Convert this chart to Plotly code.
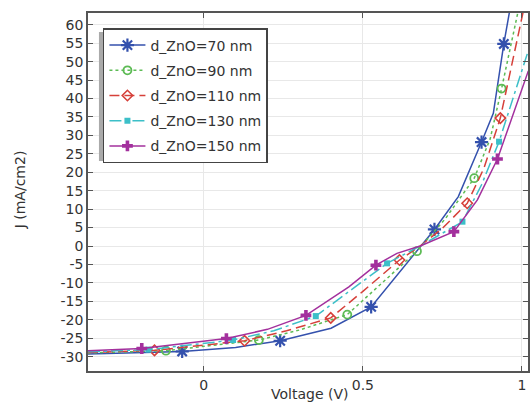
import plotly.graph_objects as go

# ---- data ----
names = ["d_ZnO=70 nm", "d_ZnO=90 nm", "d_ZnO=110 nm", "d_ZnO=130 nm", "d_ZnO=150 nm"]

v70 = [-0.364, -0.068, 0.10, 0.24, 0.40, 0.526, 0.725, 0.80, 0.873, 0.91, 0.943, 0.97]
j70 = [-29.3, -28.6, -27.5, -25.7, -22.3, -16.5, 4.5, 13.4, 28.2, 36.0, 54.8, 68.0]
v70_mk = [-0.068, 0.24, 0.526, 0.725, 0.873, 0.943]
j70_mk = [-28.6, -25.7, -16.5, 4.5, 28.2, 54.8]

v90 = [-0.364, -0.119, 0.173, 0.30, 0.451, 0.55, 0.67, 0.76, 0.85, 0.90, 0.936, 0.99]
j90 = [-29.0, -28.4, -25.5, -22.8, -18.6, -10.8, -1.4, 7.5, 18.4, 29.0, 42.7, 64.5]
v90_mk = [-0.119, 0.173, 0.451, 0.67, 0.85, 0.936]
j90_mk = [-28.4, -25.5, -18.6, -1.4, 18.4, 42.7]

v110 = [-0.364, -0.155, 0.128, 0.26, 0.399, 0.50, 0.615, 0.68, 0.75, 0.828, 0.88, 0.932, 1.005]
j110 = [-28.9, -28.3, -25.7, -23.0, -19.5, -12.3, -3.8, 0.0, 4.8, 11.6, 21.0, 34.7, 64.0]
v110_mk = [-0.155, 0.128, 0.399, 0.615, 0.828, 0.932]
j110_mk = [-28.3, -25.7, -19.5, -3.8, 11.6, 34.7]

v130 = [-0.364, -0.174, 0.092, 0.22, 0.352, 0.46, 0.576, 0.68, 0.813, 0.873, 0.928, 1.02]
j130 = [-28.7, -28.1, -25.5, -23.0, -19.0, -12.0, -4.7, 0.0, 6.6, 16.6, 28.3, 53.0]
v130_mk = [-0.174, 0.092, 0.352, 0.576, 0.813, 0.928]
j130_mk = [-28.1, -25.5, -19.0, -4.7, 6.6, 28.3]

v150 = [-0.364, -0.195, 0.071, 0.20, 0.321, 0.456, 0.541, 0.607, 0.68, 0.786, 0.86, 0.923, 1.02]
j150 = [-28.4, -27.8, -25.1, -22.6, -18.8, -11.1, -5.2, -2.0, 0.0, 3.9, 12.5, 23.6, 47.5]
v150_mk = [-0.195, 0.071, 0.321, 0.541, 0.786, 0.923]
j150_mk = [-27.8, -25.1, -18.8, -5.2, 3.9, 23.6]

x_tick_vals = [0, 0.5, 1]
x_tick_text = ["0", "0.5", "1"]
y_tick_vals = [-30, -25, -20, -15, -10, -5, 0, 5, 10, 15, 20, 25, 30, 35, 40, 45, 50, 55, 60]
y_tick_text = ["-30", "-25", "-20", "-15", "-10", "-5", "0", "5", "10", "15", "20",
               "25", "30", "35", "40", "45", "50", "55", "60"]

# ---- styles ----
series = [
    dict(v=v70, j=j70, vm=v70_mk, jm=j70_mk, color="#3451ad", dash="solid",
         symbol="asterisk-open", size=11, mlw=2.2),
    dict(v=v90, j=j90, vm=v90_mk, jm=j90_mk, color="#5dbb55", dash="dot",
         symbol="circle-open", size=8, mlw=1.8),
    dict(v=v110, j=j110, vm=v110_mk, jm=j110_mk, color="#d6403a", dash="10px,5px",
         symbol="diamond-open", size=8, mlw=1.6),
    dict(v=v130, j=j130, vm=v130_mk, jm=j130_mk, color="#3cbfc8", dash="12px,4px,3px,4px",
         symbol="square", size=6, mlw=0),
    dict(v=v150, j=j150, vm=v150_mk, jm=j150_mk, color="#a3309d", dash="solid",
         symbol="cross", size=9, mlw=0),
]

fig = go.Figure()
for i, (nm, s) in enumerate(zip(names, series)):
    grp = "g%d" % i
    fig.add_trace(go.Scatter(
        x=s["v"], y=s["j"], mode="lines", legendgroup=grp, showlegend=False,
        line=dict(color=s["color"], width=1.5, dash=s["dash"]), hoverinfo="skip"))
    fig.add_trace(go.Scatter(
        x=s["vm"], y=s["jm"], mode="markers", legendgroup=grp, showlegend=False,
        marker=dict(symbol=s["symbol"], size=s["size"], color=s["color"],
                    line=dict(color=s["color"], width=s["mlw"]))))
    fig.add_trace(go.Scatter(
        x=[None], y=[None], mode="lines+markers", name=nm, legendgroup=grp,
        line=dict(color=s["color"], width=1.5, dash=s["dash"]),
        marker=dict(symbol=s["symbol"], size=s["size"], color=s["color"],
                    line=dict(color=s["color"], width=s["mlw"]))))

axis_common = dict(
    showline=True, linecolor="#555555", linewidth=1.5, mirror="ticks",
    ticks="inside", ticklen=5, tickcolor="#555555", tickwidth=1,
    showgrid=True, gridcolor="#e8e8e8", gridwidth=1, zeroline=False,
    tickfont=dict(family="DejaVu Sans", size=14, color="#333333"),
)

fig.update_xaxes(range=[-0.364, 1.019], tickmode="array",
                 tickvals=x_tick_vals, ticktext=x_tick_text, **axis_common)
fig.update_yaxes(range=[-33.9, 63.2], tickmode="array",
                 tickvals=y_tick_vals, ticktext=y_tick_text, **axis_common)

# legend shadow (offset down-left behind the legend box)
fig.add_shape(type="rect", xref="paper", yref="paper",
              x0=(99 - 88) / 442, x1=(262 - 88) / 442,
              y0=(371 - 161) / 358, y1=(371 - 32) / 358,
              fillcolor="#aaaaaa", line=dict(width=0), layer="above")

fig.add_annotation(text="J (mA/cm2)", xref="paper", yref="paper",
                   x=(20 - 88) / 442, y=(371 - 190) / 358, textangle=-90,
                   showarrow=False, xanchor="center", yanchor="middle",
                   font=dict(family="DejaVu Sans", size=14, color="#333333"))
fig.add_annotation(text="Voltage (V)", xref="paper", yref="paper",
                   x=(311 - 88) / 442, y=(371 - 394) / 358,
                   showarrow=False, xanchor="center", yanchor="middle",
                   font=dict(family="DejaVu Sans", size=14, color="#333333"))

fig.update_layout(
    width=530, height=405,
    margin=dict(l=88, r=0, t=13, b=34),
    paper_bgcolor="white", plot_bgcolor="white",
    font=dict(family="DejaVu Sans", size=14, color="#333333"),
    legend=dict(x=(103 - 88) / 442, y=(371 - 28) / 358, xanchor="left", yanchor="top",
                bgcolor="white", bordercolor="#444444", borderwidth=1.5,
                itemwidth=36,
                tracegroupgap=4, font=dict(family="DejaVu Sans", size=14, color="#333333")),
    showlegend=True,
)

fig.write_html("out.html", config={"displayModeBar": False},
               post_script="document.body.style.margin='0';")
